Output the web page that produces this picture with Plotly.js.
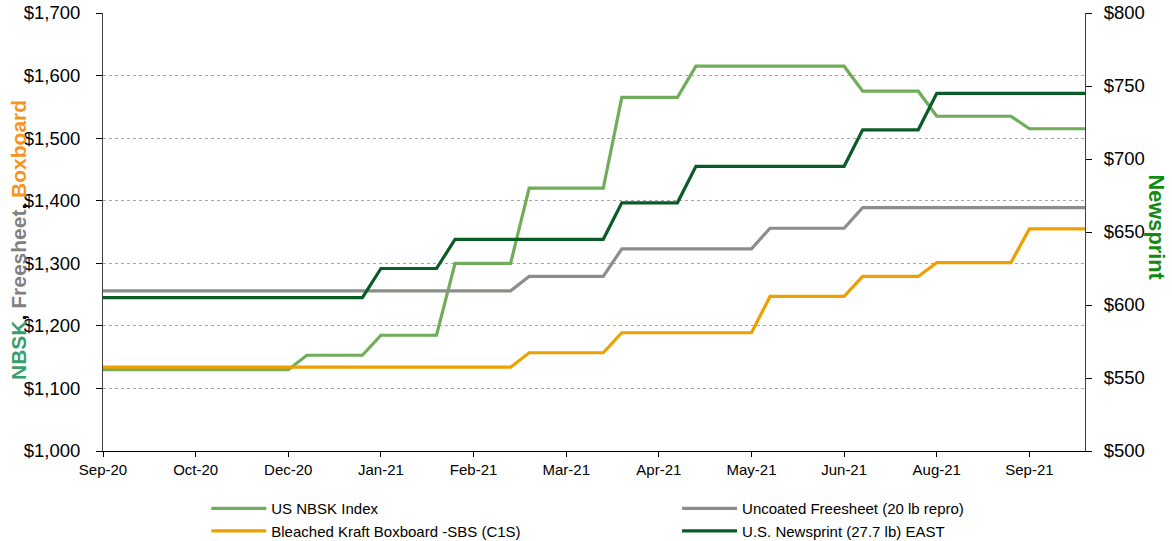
<!DOCTYPE html>
<html>
<head>
<meta charset="utf-8">
<script src="https://cdn.plot.ly/plotly-3.0.1.min.js"></script>
<style>
  html, body { margin: 0; padding: 0; background: #ffffff; }
  #chart { width: 1172px; height: 541px; }
</style>
</head>
<body>
<div id="chart"></div>
<script>
// Weekly observations (54 points), tick label shown every 5th point
const tickLabels = ["Sep-20", "Oct-20", "Dec-20", "Jan-21", "Feb-21", "Mar-21",
                    "Apr-21", "May-21", "Jun-21", "Aug-21", "Sep-21"];

const nbskIndex = [
  1130,1130,1130,1130,1130,1130,1130,1130,1130,1130,1130,
  1153,1153,1153,1153,
  1185,1185,1185,1185,
  1300,1300,1300,1300,
  1420,1420,1420,1420,1420,
  1565,1565,1565,1565,
  1615,1615,1615,1615,1615,1615,1615,1615,1615,
  1575,1575,1575,1575,
  1535,1535,1535,1535,1535,
  1515,1515,1515,1515
];

const uncoatedFreesheet = [
  1256,1256,1256,1256,1256,1256,1256,1256,1256,1256,1256,1256,
  1256,1256,1256,1256,1256,1256,1256,1256,1256,1256,1256,
  1279,1279,1279,1279,1279,
  1323,1323,1323,1323,1323,1323,1323,1323,
  1356,1356,1356,1356,1356,
  1389,1389,1389,1389,1389,1389,1389,1389,1389,1389,1389,1389,1389
];

const bleachedBoxboard = [
  1134,1134,1134,1134,1134,1134,1134,1134,1134,1134,1134,1134,
  1134,1134,1134,1134,1134,1134,1134,1134,1134,1134,1134,
  1157,1157,1157,1157,1157,
  1189,1189,1189,1189,1189,1189,1189,1189,
  1247,1247,1247,1247,1247,
  1279,1279,1279,1279,
  1301,1301,1301,1301,1301,
  1355,1355,1355,1355
];

const newsprintEast = [
  605,605,605,605,605,605,605,605,605,605,605,605,605,605,605,
  625,625,625,625,
  645,645,645,645,645,645,645,645,645,
  670,670,670,670,
  695,695,695,695,695,695,695,695,695,
  720,720,720,720,
  745,745,745,745,745,745,745,745,745
];

const seriesNames = ["US NBSK Index", "Uncoated Freesheet (20 lb repro)",
                     "Bleached Kraft Boxboard -SBS (C1S)", "U.S. Newsprint (27.7 lb) EAST"];
const seriesColors = ["#70ad5b", "#8a8f8a", "#eda100", "#0a5c26"];

const weekIndex = nbskIndex.map((_, i) => i);
const labelStep = 5;
const tickVals = tickLabels.map((_, i) => i * labelStep);

const FONT = "Liberation Sans, Arial, sans-serif";

const traces = [
  {x: weekIndex, y: nbskIndex, name: seriesNames[0], yaxis: "y", legend: "legend"},
  {x: weekIndex, y: uncoatedFreesheet, name: seriesNames[1], yaxis: "y", legend: "legend2"},
  {x: weekIndex, y: bleachedBoxboard, name: seriesNames[2], yaxis: "y", legend: "legend"},
  {x: weekIndex, y: newsprintEast, name: seriesNames[3], yaxis: "y2", legend: "legend2"}
].map((t, i) => Object.assign(t, {
  type: "scatter", mode: "lines",
  line: {color: seriesColors[i], width: 3.2, shape: "linear"},
  hoverinfo: "x+y+name"
}));

const legendBase = {
  orientation: "v",
  xref: "container", yref: "container",
  y: 0.0905, xanchor: "left", yanchor: "top",
  itemwidth: 55,
  traceorder: "normal",
  font: {family: FONT, size: 15, color: "#000000"},
  bgcolor: "rgba(0,0,0,0)"
};

const layout = {
  width: 1172, height: 541,
  margin: {l: 103, r: 87, t: 13, b: 90, autoexpand: false},
  paper_bgcolor: "#ffffff", plot_bgcolor: "#ffffff",
  font: {family: FONT, color: "#000000", size: 15},
  showlegend: true,
  legend: Object.assign({}, legendBase, {x: 0.176}),
  legend2: Object.assign({}, legendBase, {x: 0.5777}),
  xaxis: {
    range: [0, weekIndex.length - 1],
    tickmode: "array", tickvals: tickVals, ticktext: tickLabels,
    showgrid: false, zeroline: false,
    showline: true, linecolor: "#000000", linewidth: 1,
    ticks: "outside", ticklen: 5, tickcolor: "#000000",
    tickangle: 0,
    tickfont: {family: FONT, size: 15, color: "#000000"}
  },
  yaxis: {
    range: [1000, 1700], dtick: 100, tick0: 1000,
    tickprefix: "$", tickformat: ",d",
    showgrid: true, gridcolor: "#a6a6a6", griddash: "dot", gridwidth: 1,
    zeroline: false,
    showline: true, linecolor: "#404040", linewidth: 1,
    ticks: "outside", ticklen: 6, tickcolor: "#000000",
    ticklabelstandoff: 12,
    tickfont: {family: FONT, size: 18.5, color: "#000000"}
  },
  yaxis2: {
    overlaying: "y", side: "right",
    range: [500, 800], dtick: 50, tick0: 500,
    tickprefix: "$", tickformat: ",d",
    showgrid: false, zeroline: false,
    showline: true, linecolor: "#404040", linewidth: 1,
    ticks: "outside", ticklen: 6, tickcolor: "#000000",
    ticklabelstandoff: 8,
    tickfont: {family: FONT, size: 18.5, color: "#000000"}
  },
  annotations: [
    {
      xref: "paper", yref: "paper", x: -0.0866, y: 0.4817,
      xanchor: "center", yanchor: "middle", textangle: -90, showarrow: false,
      text: "<b><span style='color:#3a9e6a'>NBSK</span>, <span style='color:#808080'>Freesheet</span>, <span style='color:#f7941d'>Boxboard</span></b>",
      font: {family: FONT, size: 21, color: "#000000"}
    },
    {
      xref: "paper", yref: "paper", x: 1.0733, y: 0.5103,
      xanchor: "center", yanchor: "middle", textangle: 90, showarrow: false,
      text: "<b>Newsprint</b>",
      font: {family: FONT, size: 21.8, color: "#118a11"}
    }
  ]
};

Plotly.newPlot("chart", traces, layout, {displayModeBar: false, staticPlot: true});
</script>
</body>
</html>
